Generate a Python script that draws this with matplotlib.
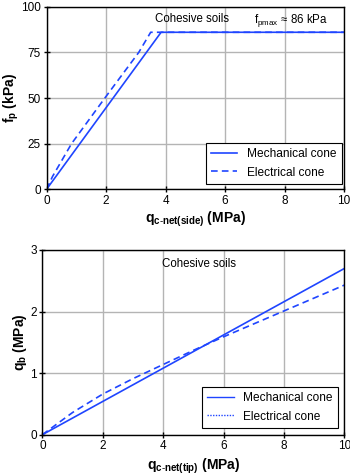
import numpy as np
import matplotlib
matplotlib.use("Agg")
import matplotlib.pyplot as plt
from matplotlib.lines import Line2D

plt.rcParams['font.family'] = ['Liberation Sans', 'DejaVu Sans']
plt.rcParams['mathtext.fontset'] = 'custom'
plt.rcParams['mathtext.rm'] = 'Liberation Sans'
plt.rcParams['mathtext.bf'] = 'Liberation Sans:bold'
plt.rcParams['mathtext.it'] = 'Liberation Sans:italic'

# side friction (top panel)
side_mech_q = [0, 3.85, 10]
side_mech_f = [0, 86, 86]
side_elec_q = [0, 0.2, 0.84, 1.96, 3.1, 3.5, 10]
side_elec_f = [0, 7, 25, 50, 75, 86, 86]
fpmax = 86

# tip resistance (bottom panel)
tip_mech_q = [0, 10]
tip_mech_qb = [0, 2.7]
tip_elec_q = [0, 1, 2, 3, 4, 5, 6, 7, 8, 9, 10]
tip_elec_qb = [0, 0.36, 0.66, 0.91, 1.14, 1.37, 1.59, 1.80, 2.01, 2.22, 2.43]

blue = '#1f45ff'
fs = 8.5

fig = plt.figure(figsize=(3.5, 4.76), dpi=100)
ax1 = fig.add_axes([0.133, 0.6023, 0.850, 0.3836])
ax2 = fig.add_axes([0.121, 0.0868, 0.863, 0.388])


def style_axis(ax):
    ax.grid(True, color='#b4b4b4', linewidth=1.0)
    ax.set_axisbelow(True)
    for s in ax.spines.values():
        s.set_linewidth(1.0)
        s.set_color('black')
    ax.tick_params(direction='inout', length=4, width=1, labelsize=fs, pad=2)
    ax.set_xlim(0, 10)
    ax.set_xticks(np.arange(0, 11, 2))


leg_kw = dict(loc='lower right', fontsize=8.6, frameon=True, fancybox=False,
              edgecolor='black', framealpha=1, handlelength=2.2, handletextpad=0.8,
              borderaxespad=0, borderpad=0.45, labelspacing=0.55)

# top
ax1.plot(side_mech_q, side_mech_f, color=blue, lw=1.2, label='Mechanical cone')
ax1.plot(side_elec_q, side_elec_f, color=blue, lw=1.2, dashes=(4, 2.5), label='Electrical cone')
style_axis(ax1)
ax1.set_ylim(0, 100)
ax1.set_yticks([0, 25, 50, 75, 100])
ax1.set_xlabel(r'$\mathbf{q_{c\text{-}net(side)}\ (MPa)}$', fontsize=10, labelpad=2)
ax1.set_ylabel(r'$\mathbf{f_p\ (kPa)}$', fontsize=10, labelpad=0)
ax1.text(4.9, 93.5, 'Cohesive soils', fontsize=8.3, ha='center', va='center')
ax1.text(8.2, 92.5, r'$\mathrm{f_{pmax}}$ ≈ %d kPa' % fpmax, fontsize=8.3, ha='center', va='center')
leg1 = ax1.legend(bbox_to_anchor=(0.992, 0.029), **leg_kw)
leg1.get_frame().set_linewidth(0.8)

# bottom
ax2.plot(tip_mech_q, tip_mech_qb, color=blue, lw=1.2)
ax2.plot(tip_elec_q, tip_elec_qb, color=blue, lw=1.2, dashes=(4, 2.5))
style_axis(ax2)
ax2.set_ylim(0, 3)
ax2.set_yticks([0, 1, 2, 3])
ax2.set_xlabel(r'$\mathbf{q_{c\text{-}net(tip)}\ (MPa)}$', fontsize=10, labelpad=3)
ax2.set_ylabel(r'$\mathbf{q_b\ (MPa)}$', fontsize=10, labelpad=1)
ax2.text(5.2, 2.78, 'Cohesive soils', fontsize=8.3, ha='center', va='center')
handles = [Line2D([], [], color=blue, lw=1.0),
           Line2D([], [], color=blue, lw=1.0, linestyle=(0, (1, 1)))]
leg2 = ax2.legend(handles, ['Mechanical cone', 'Electrical cone'],
                  bbox_to_anchor=(0.979, 0.036), **leg_kw)
leg2.get_frame().set_linewidth(0.8)

plt.savefig('out.png', dpi=100)
